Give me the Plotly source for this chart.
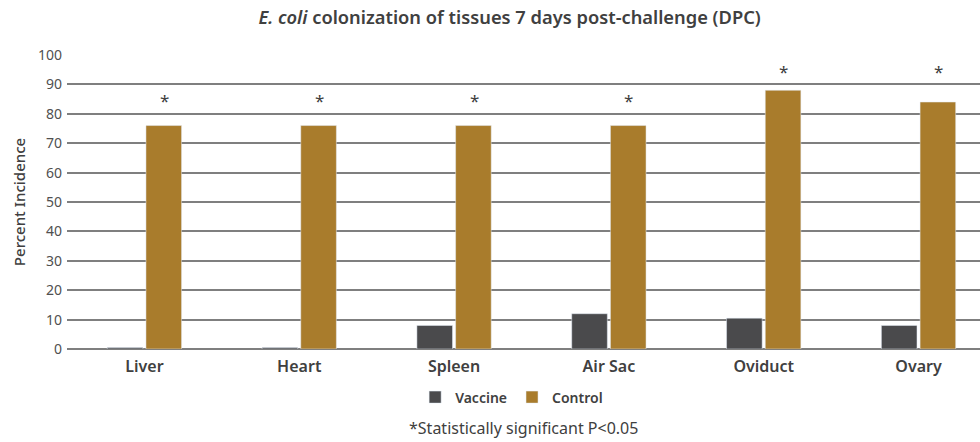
import plotly.graph_objects as go

categories = ["Liver", "Heart", "Spleen", "Air Sac", "Oviduct", "Ovary"]
vaccine = [0.5, 0.5, 8, 12, 10.5, 8]
control = [76, 76, 76, 76, 88, 84]
star_y = [84.5, 84.5, 84.5, 84.5, 94.5, 94.5]
y_ticks = [0, 10, 20, 30, 40, 50, 60, 70, 80, 90, 100]

FONT = "Noto Sans"
TXT = "#404040"

fig = go.Figure()
fig.add_trace(go.Bar(x=categories, y=vaccine, name="Vaccine", marker_color="#4a4a4c"))
fig.add_trace(go.Bar(x=categories, y=control, name="Control", marker_color="#a97c2c"))

for i, c in enumerate(categories):
    fig.add_annotation(x=i, y=star_y[i], xref="x", yref="y", text="*", showarrow=False,
                       xshift=20, font=dict(size=17, color=TXT, family=FONT), yanchor="middle")

fig.add_annotation(x=0.5, xref="paper", y=-0.27, yref="paper", text="*Statistically significant P<0.05",
                   showarrow=False, font=dict(size=16, color=TXT, family=FONT), yanchor="middle")

fig.update_layout(
    width=980, height=442,
    margin=dict(l=67, r=0, t=55, b=93),
    paper_bgcolor="white", plot_bgcolor="white",
    barmode="group", bargap=0.5, bargroupgap=0.08,
    title=dict(text="<i>E. coli</i> colonization of tissues 7 days post-challenge (DPC)",
               x=0.52, xanchor="center", y=0.96, yanchor="middle",
               font=dict(size=18.3, color=TXT, family=FONT, weight=600)),
    font=dict(family=FONT, color=TXT),
    legend=dict(orientation="h", x=0.487, xanchor="center", y=-0.165, yanchor="middle",
                font=dict(size=14, color=TXT, family=FONT, weight=600),
                itemwidth=30, traceorder="normal"),
    xaxis=dict(range=[-0.5, 5.397], showgrid=False, showline=False, ticks="",
               ticklabelstandoff=6,
               tickfont=dict(size=16, color=TXT, family=FONT, weight=600)),
    yaxis=dict(range=[0, 100], tickvals=y_ticks, showgrid=True, gridcolor="#7f7f7f", gridwidth=1.5,
               zeroline=True, zerolinecolor="#7f7f7f", zerolinewidth=1.5, ticks="",
               ticklabelstandoff=4,
               tickfont=dict(size=14, color="#505050", family=FONT),
               title=dict(text="Percent Incidence", standoff=8,
                          font=dict(size=15, color=TXT, family=FONT, weight=500))),
)

fig.write_html("out.html", config={"displayModeBar": False},
               post_script="document.body.style.margin='0';document.body.style.overflow='hidden';")
